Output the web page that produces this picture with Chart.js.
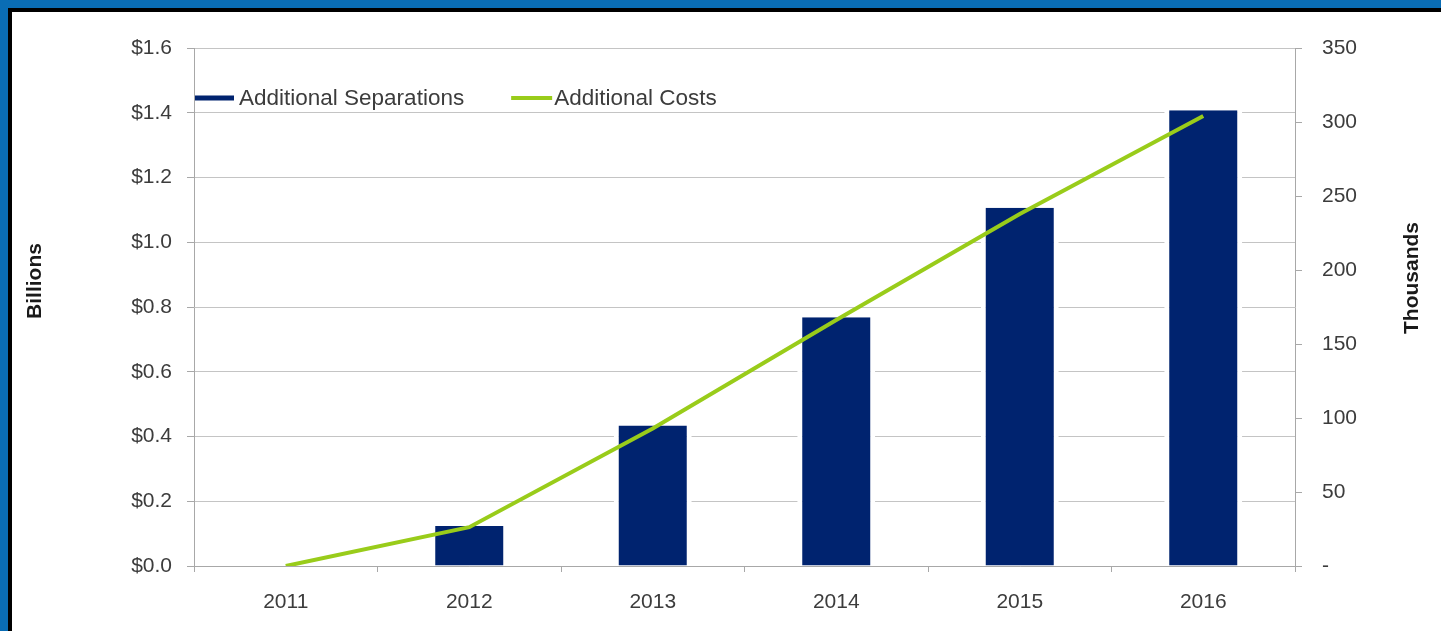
<!DOCTYPE html>
<html>
<head>
<meta charset="utf-8">
<script src="https://cdn.jsdelivr.net/npm/chart.js@4/dist/chart.umd.min.js"></script>
<style>
  html, body { margin: 0; padding: 0; background: #fff; overflow: hidden; }
  #wrap { position: absolute; left: 0; top: 0; width: 1441px; height: 631px; }
</style>
</head>
<body>
<div id="wrap"><canvas id="c" width="1441" height="631"></canvas></div>
<script>
// ---- data ----
const categories = ['2011', '2012', '2013', '2014', '2015', '2016'];
const separationsThousands = [0, 27, 95, 168, 242, 308];
const costsBillions = [0, 0.12, 0.425, 0.76, 1.087, 1.39];
const leftTicks = { min: 0, max: 1.6, step: 0.2 };
const rightTicks = { min: 0, max: 350, step: 50 };
const seriesNames = ['Additional Separations', 'Additional Costs'];
const axisTitles = ['Billions', 'Thousands'];

const NAVY = '#00236f';
const GREEN = '#99cc1a';
const TXT = '#3c3c3c';
const GRID = '#c4c4c4';
const AXIS = '#a8a8a8';
const FONT = 'Liberation Sans, Arial, sans-serif';

const decor = {
  id: 'decor',
  beforeDraw(chart) {
    const ctx = chart.ctx;
    ctx.save();
    ctx.fillStyle = '#fff';
    ctx.fillRect(0, 0, chart.width, chart.height);
    ctx.fillStyle = '#0a6db5';
    ctx.fillRect(0, 0, chart.width, 8);
    ctx.fillRect(0, 0, 8, chart.height);
    ctx.fillStyle = '#000';
    ctx.fillRect(8, 8, chart.width - 8, 4);
    ctx.fillRect(8, 8, 4, chart.height - 8);
    ctx.restore();
  },
  afterDraw(chart) {
    const ctx = chart.ctx;
    const a = chart.chartArea;
    ctx.save();
    // legend
    ctx.font = '22.5px ' + FONT;
    ctx.textBaseline = 'middle';
    ctx.textAlign = 'left';
    const ly = a.top + 50;
    ctx.fillStyle = NAVY;
    ctx.fillRect(a.left + 1, ly - 2.5, 39, 5);
    ctx.fillStyle = TXT;
    ctx.fillText(seriesNames[0], a.left + 45, ly + 1);
    const w0 = ctx.measureText(seriesNames[0]).width;
    const gx = a.left + 45 + w0 + 47;
    ctx.fillStyle = GREEN;
    ctx.fillRect(gx, ly - 2, 41, 4);
    ctx.fillStyle = TXT;
    ctx.fillText(seriesNames[1], gx + 43, ly + 1);
    // axis titles
    ctx.font = 'bold 21px ' + FONT;
    ctx.fillStyle = '#1a1a1a';
    ctx.textAlign = 'center';
    ctx.textBaseline = 'middle';
    ctx.save();
    ctx.translate(35, 281);
    ctx.rotate(-Math.PI / 2);
    ctx.fillText(axisTitles[0], 0, 0);
    ctx.restore();
    ctx.save();
    ctx.translate(1412, 278);
    ctx.rotate(-Math.PI / 2);
    ctx.fillText(axisTitles[1], 0, 0);
    ctx.restore();
    ctx.restore();
  }
};

new Chart(document.getElementById('c'), {
  data: {
    labels: categories,
    datasets: [
      {
        type: 'line',
        label: seriesNames[1],
        data: costsBillions,
        yAxisID: 'y',
        borderColor: GREEN,
        backgroundColor: GREEN,
        borderWidth: 4,
        pointRadius: 0,
        tension: 0,
        order: 0
      },
      {
        type: 'bar',
        label: seriesNames[0],
        data: separationsThousands,
        yAxisID: 'y1',
        backgroundColor: NAVY,
        borderColor: '#ffffff',
        borderWidth: { left: 5, right: 5, top: 0, bottom: 0 },
        borderSkipped: 'start',
        categoryPercentage: 1,
        barPercentage: 0.425,
        order: 1
      }
    ]
  },
  options: {
    responsive: false,
    animation: false,
    devicePixelRatio: 1,
    layout: { padding: { top: 48, left: 0, right: 0, bottom: 0 } },
    plugins: { legend: { display: false }, tooltip: { enabled: false }, title: { display: false } },
    scales: {
      x: {
        type: 'category',
        offset: true,
        grid: { display: true, drawOnChartArea: false, offset: true, tickLength: 6, color: AXIS },
        border: { color: AXIS },
        ticks: { color: TXT, font: { family: FONT, size: 21 }, padding: 18, maxRotation: 0 },
        afterFit(s) { s.height = 65; }
      },
      y: {
        position: 'left',
        min: leftTicks.min, max: leftTicks.max,
        grid: { color: GRID, tickLength: 7, tickColor: AXIS },
        border: { color: AXIS },
        ticks: {
          stepSize: leftTicks.step, color: TXT, font: { family: FONT, size: 21 }, padding: 15,
          callback: v => '$' + Number(v).toFixed(1)
        },
        afterFit(s) { s.width = 194; }
      },
      y1: {
        position: 'right',
        min: rightTicks.min, max: rightTicks.max,
        grid: { drawOnChartArea: false, tickLength: 7, color: AXIS },
        border: { color: AXIS },
        ticks: {
          stepSize: rightTicks.step, color: TXT, font: { family: FONT, size: 21 }, padding: 20,
          callback: v => (v === 0 ? '-' : String(v))
        },
        afterFit(s) { s.width = 146; }
      }
    }
  },
  plugins: [decor]
});
</script>
</body>
</html>
